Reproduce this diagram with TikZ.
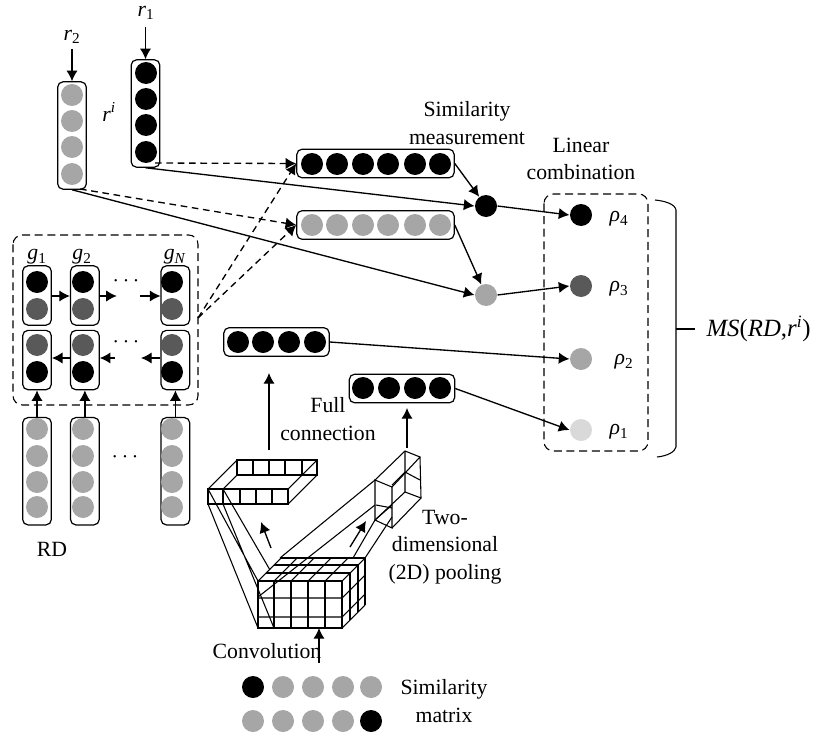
\documentclass[tikz,border=0pt]{standalone}
\usepackage{fontspec}
\setmainfont{Liberation Serif}
\usetikzlibrary{arrows.meta,positioning}
\definecolor{dotgray}{HTML}{A6A6A6}
\definecolor{dotdark}{HTML}{595959}
\definecolor{dotpale}{HTML}{D9D9D9}

\begin{document}
\begin{tikzpicture}[x=0.75pt, y=-0.75pt,
  line width=0.8pt,
  pill/.style={rectangle, rounded corners=4pt, draw, line width=0.9pt, inner sep=0pt},
  pilla/.style={pill, minimum width=21.5pt, minimum height=80.5pt},
  pillb/.style={pill, minimum width=21.5pt, minimum height=44.5pt},
  pillc/.style={pill, minimum width=118pt, minimum height=21.5pt},
  pilld/.style={pill, minimum width=79pt, minimum height=21.5pt},
  dot/.style={circle, inner sep=0pt, minimum size=16.5pt},
  dotk/.style={dot, fill=black},
  dotg/.style={dot, fill=dotgray},
  dotd/.style={dot, fill=dotdark},
  dotp/.style={dot, fill=dotpale},
  lab/.style={inner sep=0pt, align=center, font=\fontsize{16.3}{20.5}\selectfont},
  group/.style={draw, rounded corners=7pt, dash pattern=on 6pt off 3.5pt, line width=0.8pt},
  arr/.style={-{Latex[length=8pt,width=8.5pt]}, line width=1pt},
  dasharr/.style={arr, dash pattern=on 5pt off 3.5pt}]
  \useasboundingbox (0,0) rectangle (813,735);

  \draw[group] (13,235) rectangle (198,405);
  \draw[group] (544,194) rectangle (648,451);

  \node[pilla] (r1) at (145.5,113.5) {};
  \node[pilla] (r2) at (72,135.5) {};
  \node[pillb] (ga) at (37,295.5) {};
  \node[pillb, right=13.5pt of ga] (gb) {};
  \node[pillb, right=45.5pt of gb] (gn) {};
  \node[pillb, below=3pt of ga] (ha) {};
  \node[pillb, below=3pt of gb] (hb) {};
  \node[pillb, below=3pt of gn] (hn) {};
  \node[pilla, below=20pt of ha] (da) {};
  \node[pilla, below=20pt of hb] (db) {};
  \node[pilla, below=20pt of hn] (dn) {};
  \node[pillc] (sa) at (375.5,163.5) {};
  \node[pillc] (sb) at (375.5,225) {};
  \node[pilld] (fa) at (276.5,342) {};
  \node[pilld] (fb) at (402,388.5) {};

  \foreach \i/\y in {1/73,2/99,3/125,4/152} \node[dotk] (ra\i) at (146,\y) {};
  \foreach \i/\y in {1/95,2/121,3/147,4/174} \node[dotg] (rb\i) at (72,\y) {};
  \foreach \n/\x in {a/37,b/83,n/172} {
    \node[dotk] (g\n1) at (\x,282) {};
    \node[dotd] (g\n2) at (\x,309) {};
    \node[dotd] (h\n1) at (\x,345) {};
    \node[dotk] (h\n2) at (\x,372) {};
    \foreach \i/\y in {1/429,2/456,3/482,4/507} \node[dotg] (d\n\i) at (\x,\y) {};
  }
  \foreach \i/\x in {1/312,2/337,3/363,4/388,5/415,6/440} {
    \node[dotk] (sa\i) at (\x,164) {};
    \node[dotg] (sb\i) at (\x,225) {};
  }
  \foreach \i/\x in {1/238,2/263,3/289,4/315} \node[dotk] (fa\i) at (\x,342) {};
  \foreach \i/\x in {1/363,2/389,3/415,4/440} \node[dotk] (fb\i) at (\x,388) {};

  \node[dotk] (ma) at (486,206) {};
  \node[dotg] (mb) at (486,295) {};
  \node[dotk] (p4) at (581,215) {};
  \node[dotd] (p3) at (581,286) {};
  \node[dotg] (p2) at (581,359) {};
  \node[dotp] (p1) at (581,430) {};
  \foreach \i/\x/\c in {1/253/dotk,2/283/dotg,3/313/dotg,4/343/dotg,5/371/dotg} \node[\c] (ua\i) at (\x,687) {};
  \foreach \i/\x/\c in {1/253/dotg,2/283/dotg,3/313/dotg,4/343/dotg,5/371/dotk} \node[\c] (ub\i) at (\x,721) {};

  \node[lab] (lr1) at (146,13) {\textit{r}\textsubscript{1}};
  \node[lab] (lr2) at (72,37) {\textit{r}\textsubscript{2}};
  \node[lab] (lri) at (109,112) {\textit{r}\textsuperscript{\textit{i}}};
  \node[lab] (lga) at (37,257) {\textit{g}\textsubscript{1}};
  \node[lab] (lgb) at (82,257) {\textit{g}\textsubscript{2}};
  \node[lab] (lgn) at (175,257) {\textit{g}\textsubscript{\textit{N}}};
  \node[lab] (dots1) at (126,281) {$\cdots$};
  \node[lab] (dots2) at (126,342) {$\cdots$};
  \node[lab] (dots3) at (125,457) {$\cdots$};
  \node[lab] (lrd) at (52,549) {RD};
  \node[lab] (lsim) at (467,123) {Similarity\\measurement};
  \node[lab] (llin) at (581,159) {Linear\\combination};
  \node[lab] (lfull) at (328,419) {Full\\connection};
  \node[lab] (lpool) at (445,547) {Two-\\dimensional\\(2D) pooling};
  \node[lab] (lconv) at (267,651) {Convolution};
  \node[lab] (lmat) at (444,701) {Similarity\\matrix};
  \node[lab] (lp4) at (619,219) {\textit{ρ}\textsubscript{4}};
  \node[lab] (lp3) at (619,289) {\textit{ρ}\textsubscript{3}};
  \node[lab] (lp2) at (624,362) {\textit{ρ}\textsubscript{2}};
  \node[lab] (lp1) at (619,432) {\textit{ρ}\textsubscript{1}};
  \node[lab, anchor=west, font=\fontsize{18.6}{20}\selectfont] (lms) at (706,329) {\textit{MS}(\textit{RD},\textit{r}\textsuperscript{\textit{i}})};

  \coordinate (t1) at (145.5,27);
  \coordinate (t2) at (72,49);
  \draw[arr] (t1) -- (r1.north);
  \draw[arr] (t2) -- (r2.north);
  \draw[arr] (ga.east |- 0,296) -- (gb.west |- 0,296);
  \draw[arr] (gb.east |- 0,296) -- ++(17,0);
  \draw[arr] (140,296) -- (gn.west |- 0,296);
  \draw[arr] (hb.west |- 0,358) -- (ha.east |- 0,358);
  \draw[arr] (115,358) -- (hb.east |- 0,358);
  \draw[arr] (hn.west |- 0,358) -- (141,358);
  \draw[arr] (da.north) -- (ha.south);
  \draw[arr] (db.north) -- (hb.south);
  \draw[arr] (dn.north) -- (hn.south);

  \draw[arr] (r1.south) -- (ma.west);
  \draw[arr] (r2.south) -- (mb.west);
  \draw[dasharr] (155,163) -- (sa.west);
  \draw[dasharr] (80,189) -- (sb.west);
  \coordinate (gout) at (198,318);
  \draw[dasharr] (gout) -- (sa.west);
  \draw[dasharr] (gout) -- (sb.west);
  \draw[arr] (sa.east) -- (ma);
  \draw[arr] (sb.east) -- (mb);
  \draw[arr] (ma.east) -- (p4.west);
  \draw[arr] (mb.east) -- (p3.west);
  \draw[arr] (fa.east) -- (p2.west);
  \draw[arr] (fb.east) -- (p1.west);

  \draw (655,200) .. controls (665,201) and (675,204) .. (676,210) -- (676,447) .. controls (675,452) and (667,456) .. (657,457);
  \draw (676,329) -- (lms.west -| 695,0);

  \draw (208,489) rectangle (288,504);
  \foreach \x in {223,240,256,272} \draw (\x,489) -- (\x,504);
  \draw (237,460) rectangle (317,475);
  \foreach \x in {253,269,285,302} \draw (\x,460) -- (\x,475);
  \draw (208,489) -- (237,460) (223,489) -- (237,475) (288,489) -- (317,460) (288,504) -- (317,475) (288,489) -- (302,475);

  \draw (258,581) rectangle (342,628);
  \foreach \x in {274,291,308,325} \draw (\x,581) -- (\x,628);
  \foreach \y in {598,617} \draw (258,\y) -- (342,\y) -- (365,\y-23);
  \foreach \x in {258,274,291,308,325,342} \draw (\x,581) -- (\x+23,558);
  \foreach \d in {8,16,23} {
    \draw (258+\d,581-\d) -- (342+\d,581-\d);
    \draw (342+\d,581-\d) -- (342+\d,628-\d);
  }
  \draw (342,628) -- (365,605);

  \draw (208,489) -- (258,581) (208,504) -- (258,628) (223,489) -- (270,570) (223,504) -- (274,628);

  \draw (375,480) -- (375,520) -- (392,528) -- (392,487) -- cycle;
  \draw (375,480) -- (405,451) -- (420,457) -- (392,487) (420,457) -- (421,498) -- (392,528);
  \draw (405,451) -- (405,492) -- (421,498) (405,492) -- (375,520);
  \draw (405,472) -- (420,480) (405,472) -- (392,485);
  \draw (376,505) -- (392,508) (375,520) -- (392,505);
  \draw (280,558) -- (375,480) (258,597) -- (375,505) (353,558) -- (375,520) (365,558) -- (392,517);

  \coordinate (aa) at (269,450);
  \coordinate (ab) at (269,373);
  \coordinate (ac) at (407,448);
  \coordinate (ad) at (407,408);
  \coordinate (ae) at (271,548);
  \coordinate (af) at (261,522);
  \coordinate (ag) at (350,547);
  \coordinate (ah) at (366,521);
  \coordinate (ai) at (319,663);
  \coordinate (aj) at (319,628);
  \draw[arr] (aa) -- (ab);
  \draw[arr] (ac) -- (ad);
  \draw[arr] (ae) -- (af);
  \draw[arr] (ag) -- (ah);
  \draw[arr] (ai) -- (aj);
\end{tikzpicture}
\end{document}
